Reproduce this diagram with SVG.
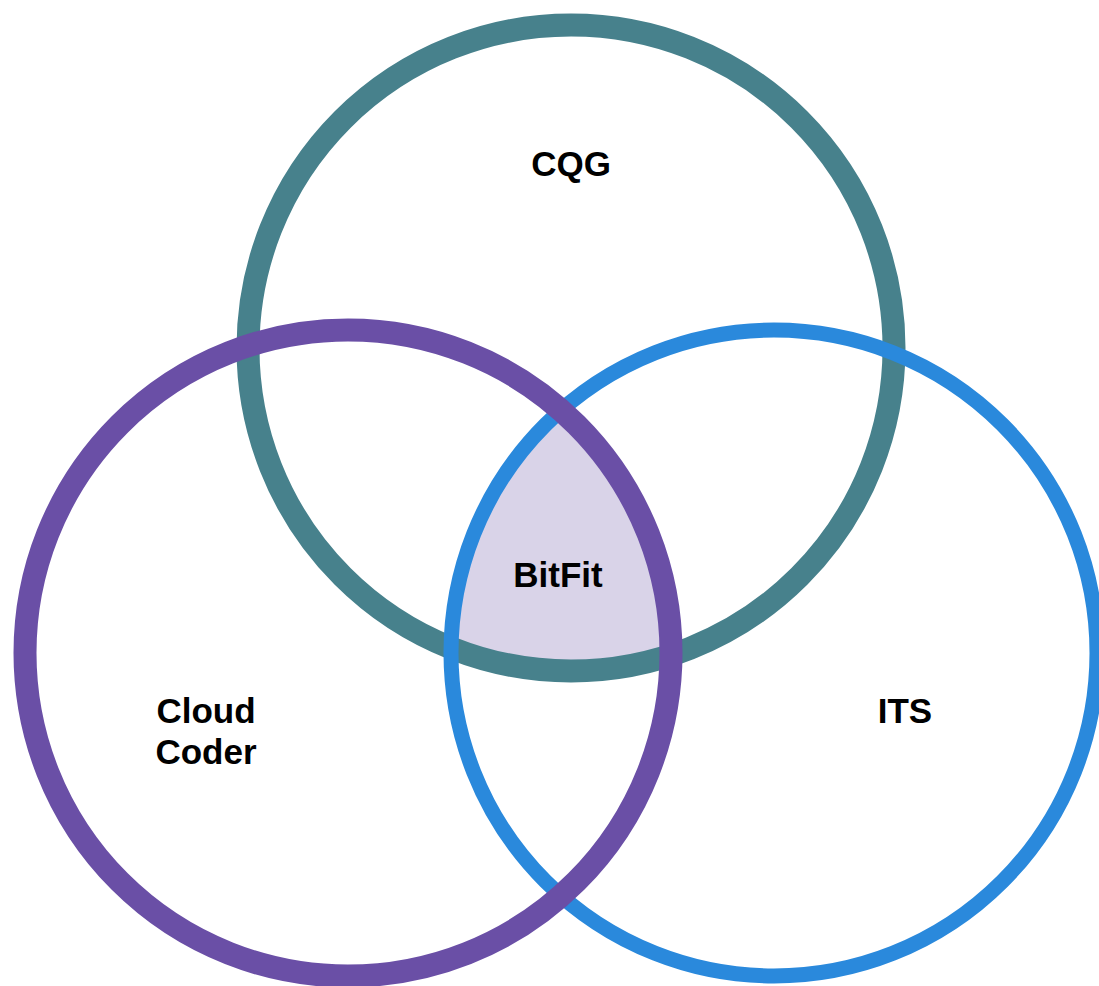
<svg xmlns="http://www.w3.org/2000/svg" width="1099" height="986" viewBox="0 0 1099 986">
<style>
.ring{fill:none}
.lbl{font-family:"Liberation Sans",Arial,sans-serif;font-weight:bold;font-size:35px;fill:#000;text-anchor:middle}
</style>
<defs>
<clipPath id="clipCC"><circle cx="348" cy="653" r="323"/></clipPath>
<clipPath id="clipITS"><circle cx="774" cy="653" r="323"/></clipPath>
</defs>
<rect width="1099" height="986" fill="#fff"/>
<g id="bitfit-region" clip-path="url(#clipCC)">
<circle cx="571" cy="348" r="323" fill="#d9d3e8" clip-path="url(#clipITS)"/>
</g>
<g id="cqg"><circle class="ring" cx="571" cy="348" r="323" stroke="#47818c" stroke-width="23"/></g>
<g id="its"><circle class="ring" cx="774" cy="653" r="323" stroke="#2a89dc" stroke-width="15"/></g>
<g id="cloudcoder"><circle class="ring" cx="348" cy="653" r="323" stroke="#6a4fa6" stroke-width="23"/></g>
<g id="labels">
<text class="lbl" x="571" y="176">CQG</text>
<text class="lbl" x="558" y="587">BitFit</text>
<text class="lbl" x="206" y="723">Cloud</text>
<text class="lbl" x="206" y="764">Coder</text>
<text class="lbl" x="905" y="723">ITS</text>
</g>
</svg>
